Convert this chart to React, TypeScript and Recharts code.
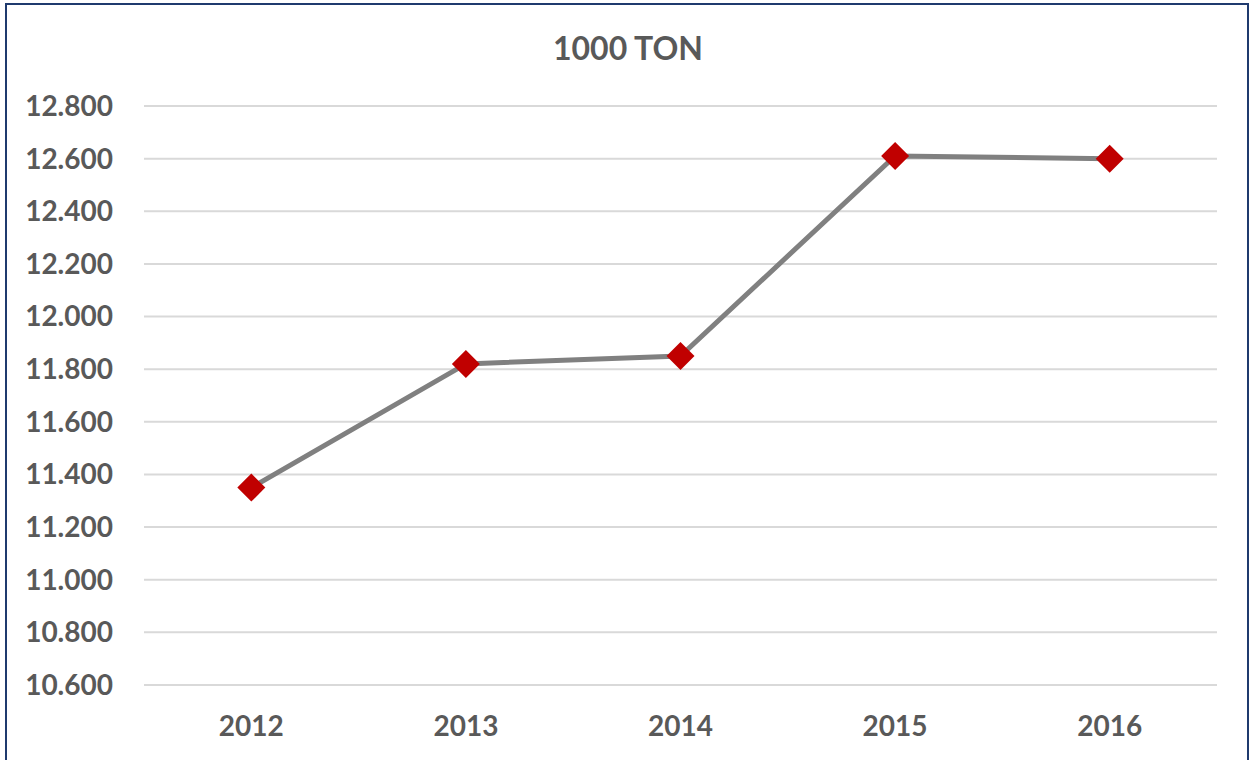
import { LineChart, Line, XAxis, YAxis, CartesianGrid } from "recharts"

const years = ["2012", "2013", "2014", "2015", "2016"]
const tons = [11350, 11820, 11850, 12610, 12600]
const yTicks = [10600, 10800, 11000, 11200, 11400, 11600, 11800, 12000, 12200, 12400, 12600, 12800]

const data = years.map((year, i) => ({ year, value: tons[i] }))

const FONT = "Lato, 'Open Sans', sans-serif"
const TXT = "#595959"

const fmt = (v: number) => (v / 1000).toFixed(3)

function Diamond(props: any) {
  const { cx, cy } = props
  if (cx == null || cy == null) return null
  const r = 14
  return (
    <polygon
      points={`${cx},${cy - r} ${cx + r},${cy} ${cx},${cy + r} ${cx - r},${cy}`}
      fill="#C00000"
    />
  )
}

export default function App() {
  return (
    <div style={{ position: "absolute", left: 0, top: 0, width: 1256, height: 760, overflow: "hidden", background: "#fff" }}>
      <div
        style={{
          position: "absolute",
          left: 5,
          top: 3,
          width: 1240,
          height: 800,
          border: "2px solid #1F3A6E",
        }}
      />
      <div
        style={{
          position: "absolute",
          left: 0,
          top: 28,
          width: 1256,
          textAlign: "center",
          fontFamily: FONT,
          fontWeight: 700,
          fontSize: 32,
          color: TXT,
          lineHeight: "40px",
        }}
      >
        1000 TON
      </div>
      <div style={{ position: "absolute", left: 0, top: 0 }}>
        <LineChart width={1256} height={760} data={data} margin={{ top: 106, right: 39, bottom: 0, left: 0 }}>
          <CartesianGrid vertical={false} stroke="#D9D9D9" strokeWidth={2} />
          <XAxis
            dataKey="year"
            scale="band"
            height={75}
            axisLine={false}
            tickLine={false}
            tickSize={0}
            tickMargin={31}
            tick={{ fill: TXT, fontFamily: FONT, fontWeight: 700, fontSize: 28 }}
          />
          <YAxis
            width={144}
            domain={[10600, 12800]}
            ticks={yTicks}
            interval={0}
            tickFormatter={fmt}
            axisLine={false}
            tickLine={false}
            tickSize={0}
            tickMargin={31}
            tick={{ fill: TXT, fontFamily: FONT, fontWeight: 700, fontSize: 28 }}
          />
          <Line
            dataKey="value"
            stroke="#808080"
            strokeWidth={5}
            dot={<Diamond />}
            activeDot={false}
            isAnimationActive={false}
          />
        </LineChart>
      </div>
    </div>
  )
}
